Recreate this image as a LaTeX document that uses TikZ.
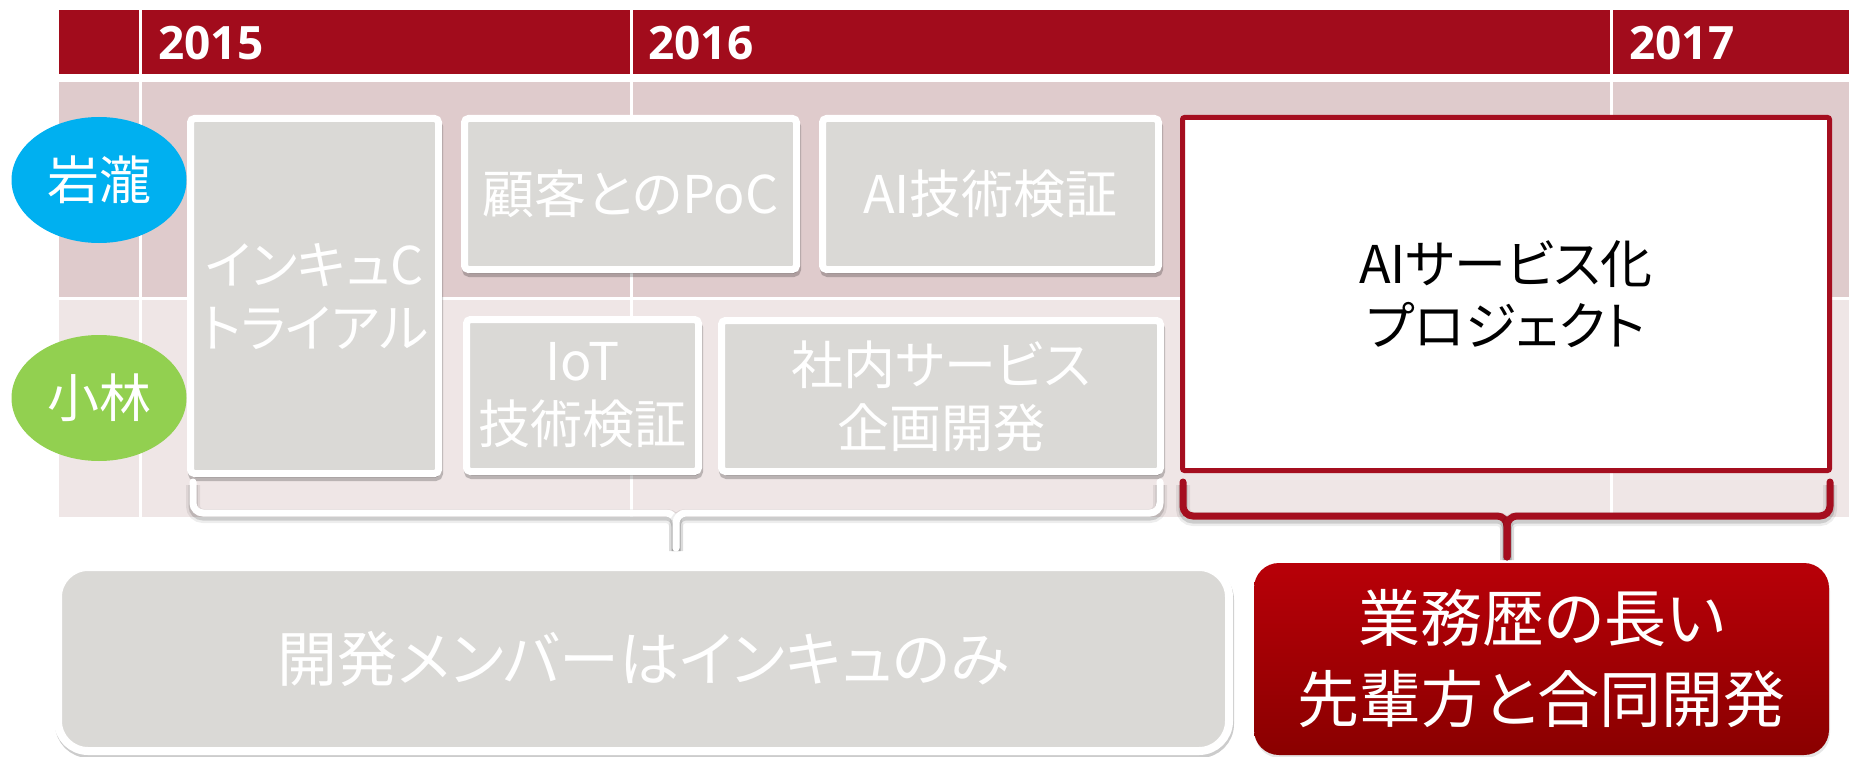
\documentclass[tikz,border=0pt]{standalone}
\usepackage{fontspec}
\setmainfont{Noto Sans CJK JP}[RawFeature=+palt]
\newfontfamily\yearfont{Open Sans}
\usetikzlibrary{shapes.geometric,shadows}

\definecolor{hdred}{HTML}{A20C1C}
\definecolor{rowone}{HTML}{DFCBCC}
\definecolor{rowtwo}{HTML}{EFE6E6}
\definecolor{boxgray}{HTML}{DAD9D6}
\definecolor{prjred}{HTML}{A50E1F}
\definecolor{iwacyan}{HTML}{00B0F0}
\definecolor{kobagreen}{HTML}{92D050}
\definecolor{redtop}{HTML}{B80008}
\definecolor{redbot}{HTML}{8A0000}

\begin{document}
\begin{tikzpicture}[x=1pt,y=-1pt,
    task/.style={draw=white, line width=7pt, fill=boxgray, rounded corners=4pt,
        text=white, align=center, inner sep=0pt, font=\fontsize{52}{63}\selectfont,
        drop shadow={shadow xshift=1pt, shadow yshift=-4pt, fill=black, draw=black,
        line width=7pt, opacity=0.22}},
    person/.style={ellipse, inner sep=0pt, minimum width=175pt, minimum height=126pt,
        text=white, font=\fontsize{52}{63}\selectfont},
    yearlbl/.style={anchor=west, text=white, inner sep=0pt,
        font=\yearfont\bfseries\fontsize{46}{50}\selectfont},
    brace/.style={line width=7pt, line cap=round, rounded corners=10pt,
        preaction={draw=black, opacity=0.07, line width=14pt, transform canvas={yshift=-3pt}},
        preaction={draw=black, opacity=0.14, line width=9pt, transform canvas={yshift=-3pt}}}]
    \useasboundingbox (0,0) rectangle (1849,757);

    % Nền bảng thời gian
    \fill[hdred] (59,10) rectangle (1849,74);
    \fill[rowone] (59,82) rectangle (1849,297);
    \fill[rowtwo] (59,300) rectangle (1849,517);
    \foreach \x in {140,631,1611}
        \draw[white, line width=3pt] (\x,10) -- (\x,517);

    % Nhãn các năm
    \node[yearlbl] (y15) at (158,43) {2015};
    \node[yearlbl] (y16) at (648,43) {2016};
    \node[yearlbl] (y17) at (1629,43) {2017};

    % Hai thành viên
    \node[person, fill=iwacyan] (iwa) at (99,180) {岩瀧};
    \node[person, fill=kobagreen] (koba) at (99,398) {小林};

    % Các công việc cũ
    \node[task, minimum width=248pt, minimum height=355pt] (inku) at (314.5,296) {インキュC\\トライアル};
    \node[task, minimum width=332pt, minimum height=151pt] (poc) at (630.5,194) {顧客とのPoC};
    \node[task, minimum width=336pt, minimum height=151pt] (aitech) at (990.5,194) {AI技術検証};
    \node[task, minimum width=232pt, minimum height=152pt] (iot) at (582.5,395.5) {IoT\\技術検証};
    \node[task, minimum width=439pt, minimum height=151pt] (inhouse) at (941,396) {社内サービス\\企画開発};

    % Dự án mới
    \node[draw=prjred, line width=5pt, fill=white, rounded corners=2pt, inner sep=0pt,
        minimum width=647pt, minimum height=353pt, align=center,
        font=\fontsize{52}{62}\selectfont] (aiproj) at (1506,294) {AIサービス化\\プロジェクト};

    % Hai ô kết luận
    \node[draw=white, line width=8pt, fill=boxgray, rounded corners=30pt, inner sep=0pt,
        minimum width=1171pt, minimum height=184pt, text=white,
        font=\fontsize{60}{70}\selectfont,
        drop shadow={shadow xshift=1pt, shadow yshift=-3pt, fill=black, draw=black,
        line width=8pt, opacity=0.2}] (devonly) at (643.5,659) {開発メンバーはインキュのみ};
    \node[top color=redtop, bottom color=redbot, rounded corners=25pt, inner sep=0pt,
        minimum width=575pt, minimum height=192pt, text=white, align=center,
        font=\fontsize{62}{81}\selectfont,
        drop shadow={shadow xshift=1pt, shadow yshift=-3pt, opacity=0.2}] (senpai) at (1541.5,659) {業務歴の長い\\先輩方と合同開発};

    % Ngoặc nhọn
    \coordinate (wl) at (193,482);
    \coordinate (wr) at (1160,482);
    \coordinate (wm) at (676,513);
    \coordinate (wtip) at (676,548);
    \coordinate (rl) at (1183,482);
    \coordinate (rr) at (1830,482);
    \coordinate (rm) at (1507,516);
    \coordinate (rtip) at (1507,557);
    \draw[brace, white] (wl) |- (wm) -- (wtip);
    \draw[brace, white] (wr) |- (wm) -- (wtip);
    \draw[brace, prjred] (rl) |- (rm) -- (rtip);
    \draw[brace, prjred] (rr) |- (rm) -- (rtip);
\end{tikzpicture}
\end{document}
